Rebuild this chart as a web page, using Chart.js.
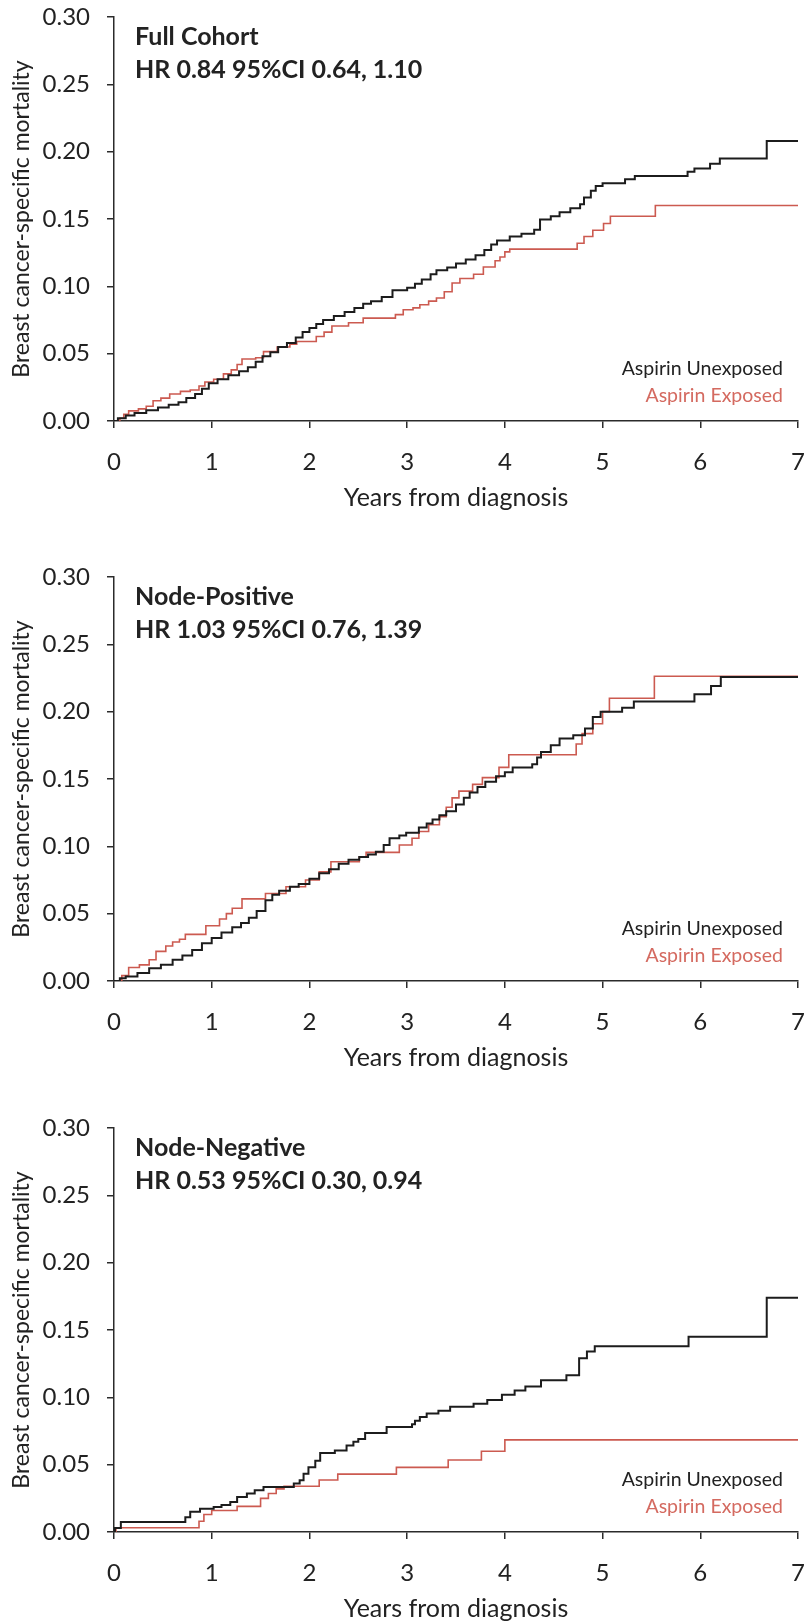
<!DOCTYPE html>
<html>
<head>
<meta charset="utf-8">
<script src="https://cdn.jsdelivr.net/npm/chart.js@4.4.1/dist/chart.umd.min.js"></script>
<style>
  html, body { margin: 0; padding: 0; background: #fff; overflow: hidden; }
  .panel { position: absolute; left: 0; width: 807px; height: 513px; }
</style>
</head>
<body>
<div class="panel" style="top:0px"><canvas id="fullChart" width="807" height="513"></canvas></div>
<div class="panel" style="top:560px"><canvas id="posChart" width="807" height="513"></canvas></div>
<div class="panel" style="top:1111px"><canvas id="negChart" width="807" height="513"></canvas></div>
<script>
// years from diagnosis / cumulative mortality
const fullUnexpT = [0, 0.04, 0.12, 0.21, 0.33, 0.45, 0.56, 0.66, 0.74, 0.83, 0.9, 0.97, 1.06, 1.17, 1.28, 1.37, 1.45, 1.52, 1.6, 1.68, 1.77, 1.86, 1.93, 2.0, 2.07, 2.14, 2.25, 2.36, 2.46, 2.55, 2.63, 2.74, 2.85, 3.0, 3.08, 3.15, 3.24, 3.3, 3.41, 3.5, 3.6, 3.7, 3.79, 3.86, 3.92, 4.05, 4.17, 4.3, 4.36, 4.47, 4.56, 4.67, 4.77, 4.81, 4.88, 4.93, 5.0, 5.23, 5.33, 5.87, 5.94, 6.1, 6.2, 6.68, 7.0];
const fullUnexpY = [0, 0.002, 0.004, 0.006, 0.008, 0.010, 0.012, 0.014, 0.017, 0.020, 0.024, 0.028, 0.031, 0.034, 0.037, 0.040, 0.044, 0.048, 0.051, 0.055, 0.058, 0.062, 0.066, 0.069, 0.072, 0.075, 0.078, 0.081, 0.084, 0.087, 0.089, 0.092, 0.097, 0.099, 0.102, 0.105, 0.109, 0.112, 0.114, 0.117, 0.120, 0.123, 0.127, 0.131, 0.134, 0.137, 0.139, 0.142, 0.1496, 0.152, 0.155, 0.158, 0.161, 0.166, 0.171, 0.1745, 0.1765, 0.1796, 0.182, 0.185, 0.1875, 0.191, 0.195, 0.208, 0.208];
const fullExpT = [0, 0.06, 0.1, 0.15, 0.25, 0.33, 0.4, 0.48, 0.57, 0.68, 0.78, 0.87, 0.93, 1.02, 1.12, 1.2, 1.26, 1.31, 1.45, 1.53, 1.67, 1.8, 1.87, 2.07, 2.15, 2.23, 2.4, 2.55, 2.88, 2.96, 3.06, 3.13, 3.22, 3.3, 3.38, 3.46, 3.54, 3.68, 3.78, 3.9, 3.95, 4.0, 4.05, 4.74, 4.81, 4.9, 5.01, 5.08, 5.54, 7.0];
const fullExpY = [0, 0.002, 0.005, 0.0075, 0.009, 0.011, 0.015, 0.017, 0.020, 0.022, 0.023, 0.026, 0.029, 0.031, 0.035, 0.038, 0.042, 0.046, 0.047, 0.0515, 0.055, 0.057, 0.059, 0.0627, 0.066, 0.0706, 0.073, 0.0764, 0.079, 0.0826, 0.084, 0.0863, 0.089, 0.0913, 0.096, 0.1025, 0.1058, 0.109, 0.1144, 0.119, 0.1218, 0.1256, 0.1276, 0.132, 0.137, 0.1417, 0.1467, 0.152, 0.160, 0.160];

const posUnexpT = [0, 0.06, 0.12, 0.24, 0.36, 0.48, 0.6, 0.7, 0.8, 0.9, 1.0, 1.1, 1.21, 1.3, 1.38, 1.46, 1.55, 1.62, 1.69, 1.8, 1.89, 2.0, 2.1, 2.2, 2.3, 2.4, 2.51, 2.6, 2.68, 2.76, 2.82, 2.92, 2.99, 3.12, 3.2, 3.26, 3.33, 3.4, 3.5, 3.58, 3.64, 3.72, 3.8, 3.91, 4.0, 4.08, 4.28, 4.33, 4.37, 4.47, 4.56, 4.7, 4.82, 4.9, 4.98, 5.2, 5.32, 5.94, 6.11, 6.21, 7.0];
const posUnexpY = [0, 0.002, 0.0033, 0.006, 0.0095, 0.012, 0.0158, 0.019, 0.023, 0.028, 0.032, 0.036, 0.040, 0.043, 0.047, 0.052, 0.060, 0.064, 0.067, 0.070, 0.072, 0.076, 0.080, 0.083, 0.087, 0.090, 0.092, 0.094, 0.096, 0.101, 0.106, 0.108, 0.110, 0.114, 0.117, 0.120, 0.123, 0.126, 0.131, 0.136, 0.140, 0.144, 0.148, 0.152, 0.155, 0.1586, 0.161, 0.166, 0.170, 0.175, 0.180, 0.1825, 0.1875, 0.196, 0.200, 0.203, 0.2075, 0.213, 0.219, 0.2258, 0.2258];
const posExpT = [0, 0.08, 0.15, 0.26, 0.36, 0.43, 0.53, 0.6, 0.67, 0.73, 0.94, 1.08, 1.15, 1.21, 1.31, 1.55, 1.76, 1.96, 2.1, 2.22, 2.51, 2.58, 2.92, 3.05, 3.12, 3.22, 3.33, 3.4, 3.46, 3.53, 3.67, 3.77, 3.94, 4.04, 4.73, 4.79, 4.9, 5.0, 5.07, 5.53, 7.0];
const posExpY = [0, 0.004, 0.010, 0.012, 0.0158, 0.022, 0.026, 0.029, 0.031, 0.0346, 0.041, 0.046, 0.050, 0.054, 0.061, 0.065, 0.070, 0.075, 0.081, 0.0885, 0.092, 0.0955, 0.101, 0.106, 0.111, 0.116, 0.122, 0.129, 0.136, 0.141, 0.146, 0.151, 0.1586, 0.168, 0.176, 0.1837, 0.191, 0.200, 0.210, 0.2263, 0.2263];

const negUnexpT = [0, 0.01, 0.07, 0.73, 0.78, 0.88, 1.02, 1.1, 1.19, 1.26, 1.36, 1.44, 1.53, 1.84, 1.9, 1.94, 1.99, 2.06, 2.11, 2.26, 2.38, 2.45, 2.5, 2.57, 2.79, 3.05, 3.08, 3.13, 3.2, 3.32, 3.44, 3.68, 3.82, 3.97, 4.1, 4.21, 4.37, 4.63, 4.76, 4.84, 4.92, 5.88, 6.68, 7.0];
const negUnexpY = [0, 0.003, 0.0074, 0.011, 0.015, 0.0173, 0.0186, 0.020, 0.0223, 0.026, 0.0285, 0.031, 0.0334, 0.036, 0.0384, 0.0433, 0.048, 0.053, 0.0587, 0.0606, 0.0643, 0.067, 0.069, 0.0735, 0.078, 0.080, 0.0827, 0.0854, 0.088, 0.090, 0.093, 0.0953, 0.098, 0.102, 0.105, 0.108, 0.1127, 0.1164, 0.129, 0.134, 0.138, 0.145, 0.174, 0.174];
const negExpT = [0, 0.02, 0.87, 0.92, 1.0, 1.26, 1.5, 1.58, 1.66, 1.74, 2.1, 2.29, 2.89, 3.42, 3.76, 4.0, 7.0];
const negExpY = [0, 0.0032, 0.008, 0.013, 0.016, 0.019, 0.025, 0.0286, 0.032, 0.034, 0.0386, 0.043, 0.048, 0.0535, 0.060, 0.0684, 0.0684];

const panelNames = ['Full Cohort', 'Node-Positive', 'Node-Negative'];
const panelHR = ['HR 0.84 95%CI 0.64, 1.10', 'HR 1.03 95%CI 0.76, 1.39', 'HR 0.53 95%CI 0.30, 0.94'];
const seriesNames = ['Aspirin Unexposed', 'Aspirin Exposed'];

const FONT = 'Lato, "Open Sans", sans-serif';
const AXIS = '#2b2b2b';
const RED = '#cc5a50';

function pts(t, y) {
  return t.map((x, i) => ({ x: x, y: y[i] }));
}

// draws the panel heading and the little legend inside the plot
const kmText = {
  id: 'kmText',
  afterDraw(chart, args, opts) {
    const ctx = chart.ctx;
    const a = chart.chartArea;
    ctx.save();
    ctx.textBaseline = 'middle';
    ctx.textAlign = 'left';
    ctx.fillStyle = '#222';
    ctx.font = 'bold 25px ' + FONT;
    ctx.fillText(opts.name, a.left + 21, a.top + 20);
    ctx.fillText(opts.hr, a.left + 21, a.top + 53);
    ctx.textAlign = 'right';
    ctx.font = '19.5px ' + FONT;
    ctx.fillStyle = '#222';
    ctx.fillText(seriesNames[0], a.right - 15, a.bottom - 52);
    ctx.fillStyle = '#d46a60';
    ctx.fillText(seriesNames[1], a.right - 15, a.bottom - 25);
    ctx.restore();
  }
};

function createKMChart(id, idx, tU, yU, tE, yE) {
  const ctx = document.getElementById(id).getContext('2d');
  return new Chart(ctx, {
    type: 'line',
    data: {
      datasets: [{
        label: seriesNames[0],
        data: pts(tU, yU),
        borderColor: '#1c1c1c',
        borderWidth: 2,
        stepped: true,
        pointRadius: 0
      }, {
        label: seriesNames[1],
        data: pts(tE, yE),
        borderColor: RED,
        borderWidth: 1.6,
        stepped: true,
        pointRadius: 0
      }]
    },
    options: {
      responsive: false,
      animation: false,
      devicePixelRatio: 1,
      layout: { padding: { top: 17, left: 0, right: 9, bottom: 0 } },
      plugins: {
        legend: { display: false },
        tooltip: { enabled: false },
        kmText: { name: panelNames[idx], hr: panelHR[idx] }
      },
      scales: {
        x: {
          type: 'linear',
          min: 0,
          max: 7,
          ticks: { stepSize: 1, color: '#222', font: { family: FONT, size: 24 }, padding: 20 },
          grid: { drawOnChartArea: false, tickLength: 7, color: AXIS, lineWidth: 1.5 },
          border: { color: AXIS, width: 1.5 },
          title: { display: true, text: 'Years from diagnosis', color: '#222', font: { family: FONT, size: 25 }, padding: 0 },
          afterFit: s => { s.height = 92; s.paddingLeft = 0; s.paddingRight = 0; }
        },
        y: {
          min: 0,
          max: 0.3,
          ticks: { stepSize: 0.05, color: '#222', font: { family: FONT, size: 24 }, padding: 17,
            callback: v => v.toFixed(2) },
          grid: { drawOnChartArea: false, tickLength: 7, color: AXIS, lineWidth: 1.5 },
          border: { color: AXIS, width: 1.5 },
          title: { display: true, text: 'Breast cancer-specific mortality', color: '#222', font: { family: FONT, size: 23 }, padding: { top: 8 } },
          afterFit: s => { s.width = 114; s.paddingTop = 0; s.paddingBottom = 0; }
        }
      }
    },
    plugins: [kmText]
  });
}

createKMChart('fullChart', 0, fullUnexpT, fullUnexpY, fullExpT, fullExpY);
createKMChart('posChart', 1, posUnexpT, posUnexpY, posExpT, posExpY);
createKMChart('negChart', 2, negUnexpT, negUnexpY, negExpT, negExpY);
</script>
</body>
</html>
